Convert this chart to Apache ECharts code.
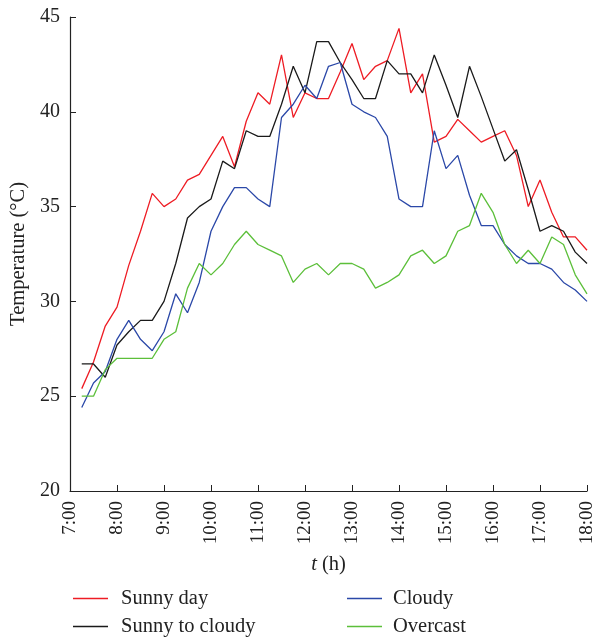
<!DOCTYPE html>
<html>
<head>
<meta charset="utf-8">
<script src="https://cdn.jsdelivr.net/npm/echarts@6/dist/echarts.min.js"></script>
<style>
html,body{margin:0;padding:0;background:#fff;}
#chart{width:598px;height:638px;}
</style>
</head>
<body>
<div id="chart"></div>
<script>
// Time stamps (hours), every 15 minutes from 7:15 to 18:00
var times = ["7:15","7:30","7:45","8:00","8:15","8:30","8:45","9:00","9:15","9:30","9:45",
  "10:00","10:15","10:30","10:45","11:00","11:15","11:30","11:45","12:00","12:15","12:30","12:45",
  "13:00","13:15","13:30","13:45","14:00","14:15","14:30","14:45","15:00","15:15","15:30","15:45",
  "16:00","16:15","16:30","16:45","17:00","17:15","17:30","17:45","18:00"];
var xTicks = ["7:00","8:00","9:00","10:00","11:00","12:00","13:00","14:00","15:00","16:00","17:00","18:00"];
var seriesNames = ["Sunny day","Sunny to cloudy","Cloudy","Overcast"];
var sunnyDay = [25.4,26.8,28.7,29.7,31.9,33.7,35.7,35.0,35.4,36.4,36.7,37.7,38.7,37.1,39.5,41.0,
  40.4,43.0,39.7,41.0,40.7,40.7,42.1,43.6,41.7,42.4,42.7,44.4,41.0,42.0,38.4,38.7,39.6,39.0,38.4,38.7,39.0,37.7,35.0,36.4,34.7,33.4,33.4,32.7];
var sunnyToCloudy = [26.7,26.7,26.0,27.7,28.4,29.0,29.0,30.0,32.0,34.4,35.0,35.4,37.4,37.0,39.0,38.7,
  38.7,40.4,42.4,41.0,43.7,43.7,42.6,41.7,40.7,40.7,42.7,42.0,42.0,41.0,43.0,41.4,39.7,42.4,40.8,39.1,37.4,38.0,35.9,33.7,34.0,33.7,32.6,32.0];
var cloudy = [24.4,25.7,26.3,28.0,29.0,28.0,27.4,28.4,30.4,29.4,31.0,33.7,35.0,36.0,36.0,35.4,
  35.0,39.7,40.4,41.4,40.7,42.4,42.6,40.4,40.0,39.7,38.7,35.4,35.0,35.0,39.0,37.0,37.7,35.6,34.0,34.0,33.0,32.4,32.0,32.0,31.7,31.0,30.6,30.0];
var overcast = [25.0,25.0,26.4,27.0,27.0,27.0,27.0,28.0,28.4,30.7,32.0,31.4,32.0,33.0,33.7,33.0,
  32.7,32.4,31.0,31.7,32.0,31.4,32.0,32.0,31.7,30.7,31.0,31.4,32.4,32.7,32.0,32.4,33.7,34.0,35.7,34.7,33.0,32.0,32.7,32.0,33.4,33.0,31.4,30.4];
var colors = ["#ee1c24","#1a1a1a","#2b48a8","#5cbf3a"];

function toHours(s){var p=s.split(":");return +p[0]+ (+p[1])/60;}
function pairs(arr){return arr.map(function(v,i){return [toHours(times[i]),v];});}

var font = "'Liberation Serif','DejaVu Serif',serif";
var chart = echarts.init(document.getElementById('chart'));
var allData=[sunnyDay,sunnyToCloudy,cloudy,overcast];
var legendText={fontFamily:font,fontSize:20.5,color:'#222',lineHeight:20};
chart.setOption({
  animation:false,
  textStyle:{fontFamily:font},
  grid:{left:70,right:11,top:17,bottom:147,containLabel:false,outerBoundsMode:'none'},
  xAxis:{
    type:'value',min:7,max:18,interval:1,
    name:'{it|t} (h)',nameLocation:'middle',nameGap:63,
    nameTextStyle:{fontFamily:font,fontSize:20.5,color:'#222',rich:{it:{fontStyle:'italic',fontFamily:font,fontSize:20.5,color:'#222'}}},
    axisLine:{lineStyle:{color:'#222',width:1.2}},
    axisTick:{inside:true,length:6,lineStyle:{color:'#222'}},
    splitLine:{show:false},
    axisLabel:{rotate:90,fontFamily:font,fontSize:19,color:'#222',margin:10,
      formatter:function(v){var i=Math.round(v-7);return xTicks[i]!==undefined?xTicks[i]:'';}}
  },
  yAxis:{
    type:'value',min:20,max:45,interval:5,
    name:'Temperature (°C)',nameLocation:'middle',nameGap:41,
    nameTextStyle:{fontFamily:font,fontSize:20.5,color:'#222'},
    axisLine:{show:true,lineStyle:{color:'#222',width:1.2}},
    axisTick:{show:true,inside:true,length:6,lineStyle:{color:'#222'}},
    splitLine:{show:false},
    axisLabel:{fontFamily:font,fontSize:20,color:'#222',margin:10}
  },
  legend:[
    {orient:'vertical',left:73,top:588,padding:0,icon:'rect',itemWidth:35,itemHeight:1.5,itemGap:7,
     data:[seriesNames[0],seriesNames[1]],
     textStyle:Object.assign({padding:[0,0,0,8]},legendText)},
    {orient:'vertical',left:347,top:588,padding:0,icon:'rect',itemWidth:35,itemHeight:1.5,itemGap:7,
     data:[seriesNames[2],seriesNames[3]],
     textStyle:Object.assign({padding:[0,0,0,6]},legendText)}
  ],
  series:seriesNames.map(function(n,k){
    return {name:n,type:'line',data:pairs(allData[k]),symbol:'none',showSymbol:false,
      lineStyle:{color:colors[k],width:1.3},itemStyle:{color:colors[k]}};
  })
});
</script>
</body>
</html>
